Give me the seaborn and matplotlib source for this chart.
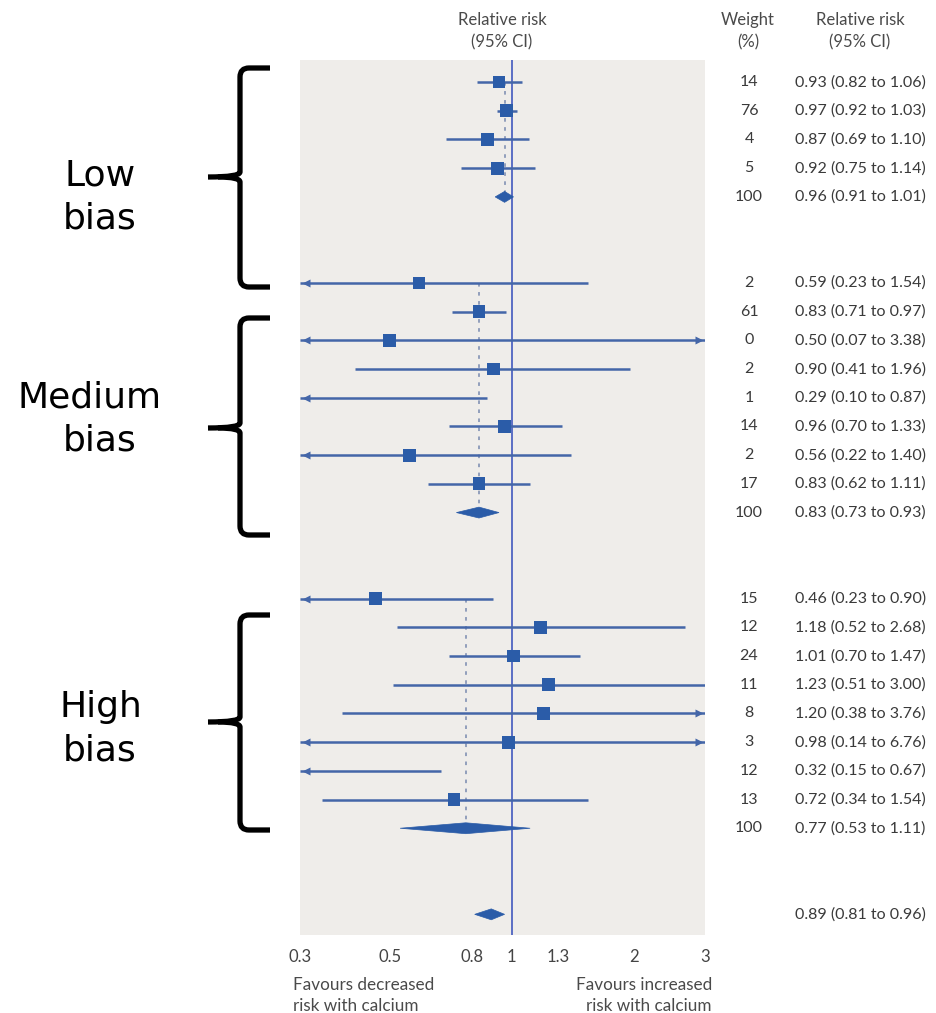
import numpy as np
import pandas as pd
import matplotlib
matplotlib.use("Agg")
import matplotlib.pyplot as plt
from matplotlib.path import Path
from matplotlib.patches import PathPatch, Polygon
from matplotlib import transforms
from matplotlib.ticker import NullLocator
import seaborn as sns

# ---------------- data ----------------
low_rr = [0.93, 0.97, 0.87, 0.92]
low_lo = [0.82, 0.92, 0.69, 0.75]
low_hi = [1.06, 1.03, 1.10, 1.14]
low_w = [14, 76, 4, 5]
low_sum = [0.96, 0.91, 1.01]

med_rr = [0.59, 0.83, 0.50, 0.90, 0.29, 0.96, 0.56, 0.83]
med_lo = [0.23, 0.71, 0.07, 0.41, 0.10, 0.70, 0.22, 0.62]
med_hi = [1.54, 0.97, 3.38, 1.96, 0.87, 1.33, 1.40, 1.11]
med_w = [2, 61, 0, 2, 1, 14, 2, 17]
med_sum = [0.83, 0.73, 0.93]

high_rr = [0.46, 1.18, 1.01, 1.23, 1.20, 0.98, 0.32, 0.72]
high_lo = [0.23, 0.52, 0.70, 0.51, 0.38, 0.14, 0.15, 0.34]
high_hi = [0.90, 2.68, 1.47, 3.00, 3.76, 6.76, 0.67, 1.54]
high_w = [15, 12, 24, 11, 8, 3, 12, 13]
high_sum = [0.77, 0.53, 1.11]

overall = [0.89, 0.81, 0.96]

groups = ["Low\nbias", "Medium\nbias", "High\nbias"]
xticks = [0.3, 0.5, 0.8, 1, 1.3, 2, 3]
xticklabels = ["0.3", "0.5", "0.8", "1", "1.3", "2", "3"]

# ---------------- build table ----------------
rows = []
start = 0
for g, (rr, lo, hi, w, sm) in enumerate([(low_rr, low_lo, low_hi, low_w, low_sum),
                                          (med_rr, med_lo, med_hi, med_w, med_sum),
                                          (high_rr, high_lo, high_hi, high_w, high_sum)]):
    for i in range(len(rr)):
        rows.append(dict(row=start + i, rr=rr[i], lo=lo[i], hi=hi[i], w=str(w[i]),
                         kind="study", group=g))
    rows.append(dict(row=start + len(rr), rr=sm[0], lo=sm[1], hi=sm[2], w="100",
                     kind="summary", group=g))
    start += len(rr) + 3
rows.append(dict(row=start, rr=overall[0], lo=overall[1], hi=overall[2], w="",
                 kind="overall", group=3))
df = pd.DataFrame(rows)
df["label"] = df.apply(lambda r: f"{r.rr:.2f} ({r.lo:.2f} to {r.hi:.2f})", axis=1)

# ---------------- style ----------------
sns.set_style("white")
plt.rcParams["font.family"] = ["Lato", "DejaVu Sans"]

BLUE = "#2b5ca8"
LINE = "#4466a8"
REF = "#5a6ec4"
DOT = "#8a98b8"
BG = "#efedea"
XMIN, XMAX = 0.3, 3.0

W, H = 936, 1013
fig = plt.figure(figsize=(W / 100, H / 100), dpi=100)
ax = fig.add_axes([300 / W, 1 - 935 / H, 405 / W, 875 / H])
ax.set_facecolor(BG)
ax.set_xscale("log")
ax.set_xlim(XMIN, XMAX)
ax.set_ylim(29.72, -0.77)
for s in ax.spines.values():
    s.set_visible(False)

# reference line at 1
ax.axvline(1.0, color=REF, lw=1.4, zorder=1)

# group dotted lines at pooled estimates
for g in range(3):
    sub = df[df.group == g]
    summ = sub[sub.kind == "summary"].iloc[0]
    ax.plot([summ.rr, summ.rr], [sub.row.min(), summ.row], ls=(0, (2, 3)),
            color=DOT, lw=1.3, zorder=1)

# CI lines with arrows
studies = df[df.kind == "study"]
for _, r in studies.iterrows():
    lo = max(r.lo, XMIN)
    hi = min(r.hi, XMAX)
    ax.plot([lo, hi], [r.row, r.row], color=LINE, lw=1.8, zorder=2,
            solid_capstyle="butt")
    if r.lo < XMIN:
        ax.plot([XMIN * 1.035], [r.row], marker="<", ms=6, color=LINE,
                mec="none", zorder=3)
    if r.hi > XMAX:
        ax.plot([XMAX / 1.035], [r.row], marker=">", ms=6, color=LINE,
                mec="none", zorder=3)

# squares (estimates inside the arrow zone at the axis edge are not drawn)
shown = studies[studies.rr > XMIN * 1.1]
sns.scatterplot(data=shown, x="rr", y="row", marker="s", s=85, color=BLUE,
                edgecolor="none", linewidth=0, ax=ax, zorder=4, legend=False)

# diamonds
hh = 0.19
for _, r in df[df.kind != "study"].iterrows():
    poly = Polygon([[r.lo, r.row], [r.rr, r.row - hh], [r.hi, r.row], [r.rr, r.row + hh]],
                   closed=True, facecolor=BLUE, edgecolor=BLUE, lw=0.5, zorder=4)
    ax.add_patch(poly)

ax.set_xticks(xticks)
ax.set_xticklabels(xticklabels)
ax.xaxis.set_minor_locator(NullLocator())
ax.set_yticks([])
ax.tick_params(axis="x", length=0, pad=10, labelsize=12, colors="#444444")
ax.set_xlabel("")
ax.set_ylabel("")

# ---------------- overlay for annotations ----------------
ov = fig.add_axes([0, 0, 1, 1])
ov.set_xlim(0, W)
ov.set_ylim(H, 0)
ov.axis("off")
ov.patch.set_alpha(0)
blend = transforms.blended_transform_factory(ov.transData, ax.transData)

TXT = "#3a3a3a"
HDR = "#4a4a4a"
for _, r in df.iterrows():
    if r.w:
        ov.text(749, r.row, r.w, transform=blend, ha="center", va="center",
                fontsize=11.5, color=TXT)
    ov.text(795, r.row, r.label, transform=blend, ha="left", va="center",
            fontsize=11.5, color=TXT)

# headers
HFS = 12
ov.text(502, 20, "Relative risk", ha="center", va="center", fontsize=HFS, color=HDR)
ov.text(502, 42, "(95% CI)", ha="center", va="center", fontsize=HFS, color=HDR)
ov.text(748, 20, "Weight", ha="center", va="center", fontsize=HFS, color=HDR)
ov.text(748, 42, "(%)", ha="center", va="center", fontsize=HFS, color=HDR)
ov.text(860, 20, "Relative risk", ha="center", va="center", fontsize=HFS, color=HDR)
ov.text(860, 42, "(95% CI)", ha="center", va="center", fontsize=HFS, color=HDR)

# favours
FFS = 12.3
ov.text(293, 985, "Favours decreased", ha="left", va="center", fontsize=FFS, color=HDR)
ov.text(293, 1006, "risk with calcium", ha="left", va="center", fontsize=FFS, color=HDR)
ov.text(712, 985, "Favours increased", ha="right", va="center", fontsize=FFS, color=HDR)
ov.text(712, 1006, "risk with calcium", ha="right", va="center", fontsize=FFS, color=HDR)

# braces and group labels
def brace(top, bottom, tip):
    xv, xr, xt, rr_ = 240, 270, 208, 9
    codes = [Path.MOVETO, Path.LINETO, Path.CURVE3, Path.CURVE3,
             Path.LINETO, Path.CURVE3, Path.CURVE3]
    verts = [(xr, top), (xv + rr_, top), (xv, top), (xv, top + rr_),
             (xv, tip - 5), (xv, tip), (xt, tip)]
    ov.add_patch(PathPatch(Path(verts, codes), fill=False, lw=3.8, color="black",
                           capstyle="butt", joinstyle="round"))
    verts2 = [(xr, bottom), (xv + rr_, bottom), (xv, bottom), (xv, bottom - rr_),
              (xv, tip + 5), (xv, tip), (xt + 10, tip)]
    ov.add_patch(PathPatch(Path(verts2, codes), fill=False, lw=3.8, color="black",
                           capstyle="butt", joinstyle="round"))

brace(68, 287, 177)
brace(318, 535, 428)
brace(615, 830, 722)

label_pos = [(100, 185), (90, 407), (101, 717)]
for (gx, gy), name in zip(label_pos, groups):
    first, second = name.split("\n")
    ov.text(gx, gy, first, ha="center", va="baseline", fontsize=26,
            family="DejaVu Sans", color="black")
    ov.text(100, gy + 43, second, ha="center", va="baseline", fontsize=26,
            family="DejaVu Sans", color="black")

fig.savefig("out.png", dpi=100, facecolor="white")
